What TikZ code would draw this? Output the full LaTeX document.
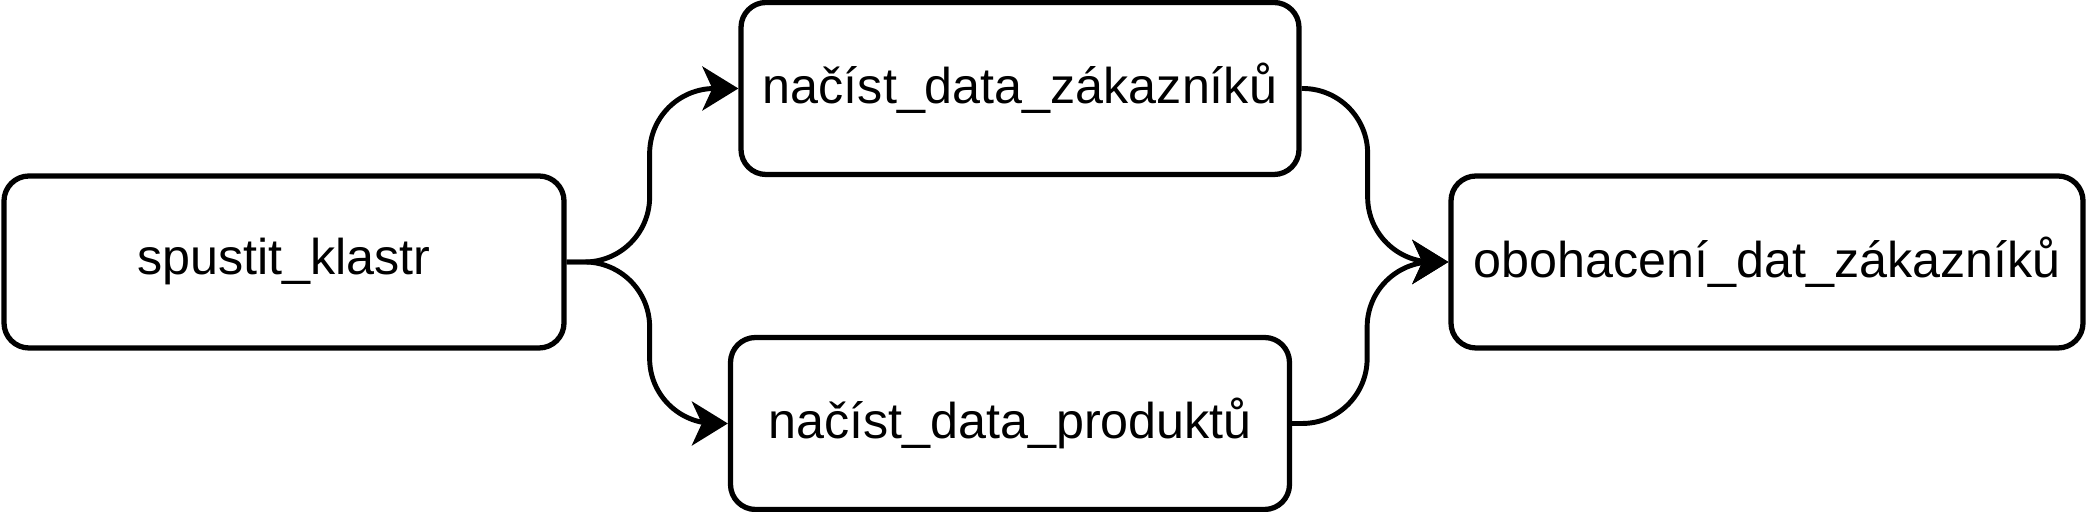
\documentclass[tikz,border=0pt]{standalone}
\usepackage{fontspec}
\setmainfont{Liberation Sans}
\usetikzlibrary{arrows.meta}

\begin{document}
\begin{tikzpicture}[
  task/.style={draw,line width=1.5pt,rounded corners=0.25cm,minimum height=1.72cm,inner sep=0pt,font=\fontsize{14.3}{17}\selectfont},
  flow/.style={line width=1.4pt,rounded corners=0.65cm,-{Stealth[length=3.6mm,width=4.4mm,inset=1mm]}}
]
\useasboundingbox (0,0) rectangle (20.87,5.12);
\node[task,minimum width=5.6cm] (start) at (2.84,2.50) {spustit\_klastr};
\node[task,minimum width=5.58cm] (cust) at (10.20,4.235) {načíst\_data\_zákazníků};
\node[task,minimum width=5.59cm] (prod) at (10.10,0.885) {načíst\_data\_produktů};
\node[task,minimum width=6.32cm] (enrich) at (17.67,2.50) {obohacení\_dat\_zákazníků};
% edges: out, up/down, in
\draw[flow] (start.east) -- ++(0.83,0) |- (cust.west);
\draw[flow] (start.east) -- ++(0.83,0) |- (prod.west);
\draw[flow] (cust.east) -- ++(0.66,0) |- (enrich.west);
\draw[flow] (prod.east) -- ++(0.75,0) |- (enrich.west);
\end{tikzpicture}
\end{document}
